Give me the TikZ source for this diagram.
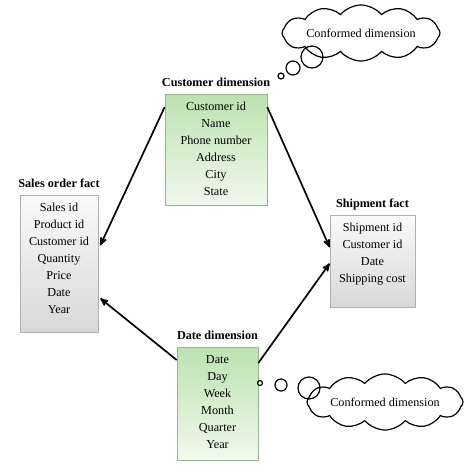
\documentclass[tikz,border=0pt]{standalone}
\usepackage{fontspec}
\setmainfont{Liberation Serif}
\usepackage{tikz}
\usetikzlibrary{arrows,positioning,shapes.symbols}

\definecolor{dimtop}{HTML}{BCE2B0}
\definecolor{dimbottom}{HTML}{F1F9EE}
\definecolor{dimline}{HTML}{93B98A}
\definecolor{facttop}{HTML}{FAFAFA}
\definecolor{factbottom}{HTML}{D8D8D8}
\definecolor{factline}{HTML}{B0B0B0}

\begin{document}
\begin{tikzpicture}[x=1pt,y=-1pt,>=stealth',
                    font=\fontsize{12.2}{17}\selectfont]
  \tikzstyle{table}=[rectangle,draw,anchor=north,align=center,
                     inner xsep=2pt,inner ysep=8pt,line width=0.6pt]
  \tikzstyle{dimbox}=[table,draw=dimline,top color=dimtop,bottom color=dimbottom]
  \tikzstyle{factbox}=[table,draw=factline,top color=facttop,bottom color=factbottom]
  \tikzstyle{boxtitle}=[font=\fontsize{12.2}{17}\selectfont\bfseries,
                        inner sep=0pt,text height=8.5pt,text depth=0pt]
  \tikzstyle{thought}=[cloud,draw,fill=white,line width=1.2pt,cloud puffs=12,
                       cloud puff arc=100,aspect=4,inner sep=0pt]
  \tikzstyle{bubble}=[circle,draw,line width=1.2pt,inner sep=0pt]
  \tikzstyle{link}=[->,line width=1.7pt]

  \useasboundingbox (0,0) rectangle (474,475);

  % tables
  \node[dimbox,minimum width=102pt,text depth=1.7pt] (cust) at (216,94)
       {Customer id\\Name\\Phone number\\Address\\City\\State};
  \node[factbox,minimum width=78pt,text depth=10.7pt] (sales) at (59,195)
       {Sales id\\Product id\\Customer id\\Quantity\\Price\\Date\\Year};
  \node[factbox,minimum width=85pt,text depth=16.7pt] (ship) at (372.5,215)
       {Shipment id\\Customer id\\Date\\Shipping cost};
  \node[dimbox,minimum width=81pt,text depth=3.7pt] (date) at (217.5,347)
       {Date\\Day\\Week\\Month\\Quarter\\Year};

  \node[boxtitle] (custtitle)  [above=7pt of cust]  {Customer dimension};
  \node[boxtitle] (salestitle) [above=7pt of sales] {Sales order fact};
  \node[boxtitle] (shiptitle)  [above=7pt of ship]  {Shipment fact};
  \node[boxtitle] (datetitle)  [above=7pt of date]  {Date dimension};

  % thought clouds
  \node[thought,minimum width=158pt,minimum height=40pt] (cloudtop) at (361,33)
       {Conformed dimension};
  \node[bubble,minimum size=22pt] (topbig)   at (312,57) {};
  \node[bubble,minimum size=14pt] (topmid)   at (293,68) {};
  \node[bubble,minimum size=6pt]  (topsmall) at (281,76) {};

  \node[thought,minimum width=156pt,minimum height=40pt] (cloudbot) at (385,402)
       {Conformed dimension};
  \node[bubble,minimum size=5pt]  (botsmall) at (260,383) {};
  \node[bubble,minimum size=12pt] (botmid)   at (281,385) {};
  \node[bubble,minimum size=22pt] (botbig)   at (309,388) {};

  % links
  \draw[link] ([yshift=-13pt]cust.north west) -- ([xshift=2pt,yshift=18.5pt]sales.east);
  \draw[link] ([yshift=-13pt]date.north west) -- ([xshift=2pt,yshift=-34.5pt]sales.east);
  \draw[link] ([yshift=-13pt]cust.north east) -- ([yshift=14pt]ship.west);
  \draw[link] ([yshift=-16pt]date.north east) -- ([yshift=-2pt]ship.west);
\end{tikzpicture}
\end{document}
